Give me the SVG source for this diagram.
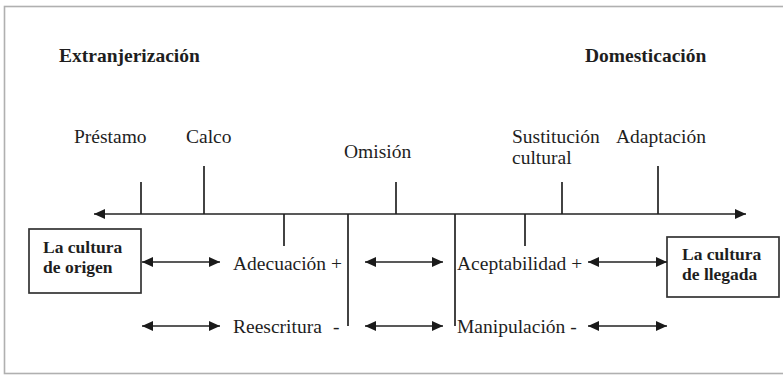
<svg xmlns="http://www.w3.org/2000/svg" width="783" height="376" viewBox="0 0 783 376">
<style>
text{font-family:'Liberation Serif','DejaVu Serif',serif;fill:#1e1e1e}
.t{font-size:19.5px}
.b{font-weight:bold}
.h{font-size:19.5px}
.bx{font-size:17.5px}
.ln{stroke:#222;stroke-width:1.7;fill:none}
.box{stroke:#333;stroke-width:1.7;fill:#fff}
</style>
<defs>
<marker id="ah" viewBox="0 0 11 10" refX="11" refY="5" markerWidth="11" markerHeight="10" markerUnits="userSpaceOnUse" orient="auto-start-reverse">
<path d="M0,0 L11,5 L0,10 z" fill="#1a1a1a"/>
</marker>
</defs>
<rect x="4.5" y="6.5" width="800" height="367" fill="#fff" stroke="#b0b0b0" stroke-width="1.6"/>
<g id="headers">
<text class="b h" x="59" y="62">Extranjerización</text>
<text class="b h" x="585" y="62">Domesticación</text>
</g>
<g id="labels-top">
<text class="t" x="74" y="143">Préstamo</text>
<text class="t" x="186" y="143">Calco</text>
<text class="t" x="344" y="158">Omisión</text>
<text class="t" x="512" y="143">Sustitución</text>
<text class="t" x="512" y="164">cultural</text>
<text class="t" x="616" y="143">Adaptación</text>
</g>
<g id="origen">
<rect class="box" x="29" y="229" width="112" height="64"/>
<text class="b bx" x="43" y="253">La cultura</text>
<text class="b bx" x="43" y="273">de origen</text>
</g>
<g id="llegada">
<rect class="box" x="667" y="237" width="112" height="60"/>
<text class="b bx" x="682" y="260">La cultura</text>
<text class="b bx" x="682" y="280">de llegada</text>
</g>
<g id="labels-mid">
<text class="t" x="233" y="270">Adecuación +</text>
<text class="t" x="233" y="333">Reescritura</text>
<text class="t" x="333" y="333">-</text>
<text class="t" x="457" y="270">Aceptabilidad +</text>
<text class="t" x="457" y="333">Manipulación -</text>
</g>
<g id="connectors">
<line class="ln" x1="94" y1="214" x2="746" y2="214" marker-start="url(#ah)" marker-end="url(#ah)"/>
<line class="ln" x1="141" y1="182" x2="141" y2="214"/>
<line class="ln" x1="204" y1="166" x2="204" y2="214"/>
<line class="ln" x1="396" y1="182" x2="396" y2="214"/>
<line class="ln" x1="562" y1="182" x2="562" y2="214"/>
<line class="ln" x1="658" y1="166" x2="658" y2="214"/>
<line class="ln" x1="284" y1="214" x2="284" y2="246"/>
<line class="ln" x1="348" y1="214" x2="348" y2="326"/>
<line class="ln" x1="455" y1="214" x2="455" y2="326"/>
<line class="ln" x1="525" y1="214" x2="525" y2="246"/>
<line class="ln" x1="142" y1="262" x2="220" y2="262" marker-start="url(#ah)" marker-end="url(#ah)"/>
<line class="ln" x1="365" y1="262" x2="443" y2="262" marker-start="url(#ah)" marker-end="url(#ah)"/>
<line class="ln" x1="588" y1="262" x2="667" y2="262" marker-start="url(#ah)" marker-end="url(#ah)"/>
<line class="ln" x1="142" y1="326" x2="220" y2="326" marker-start="url(#ah)" marker-end="url(#ah)"/>
<line class="ln" x1="365" y1="326" x2="443" y2="326" marker-start="url(#ah)" marker-end="url(#ah)"/>
<line class="ln" x1="588" y1="326" x2="667" y2="326" marker-start="url(#ah)" marker-end="url(#ah)"/>
</g>
</svg>
